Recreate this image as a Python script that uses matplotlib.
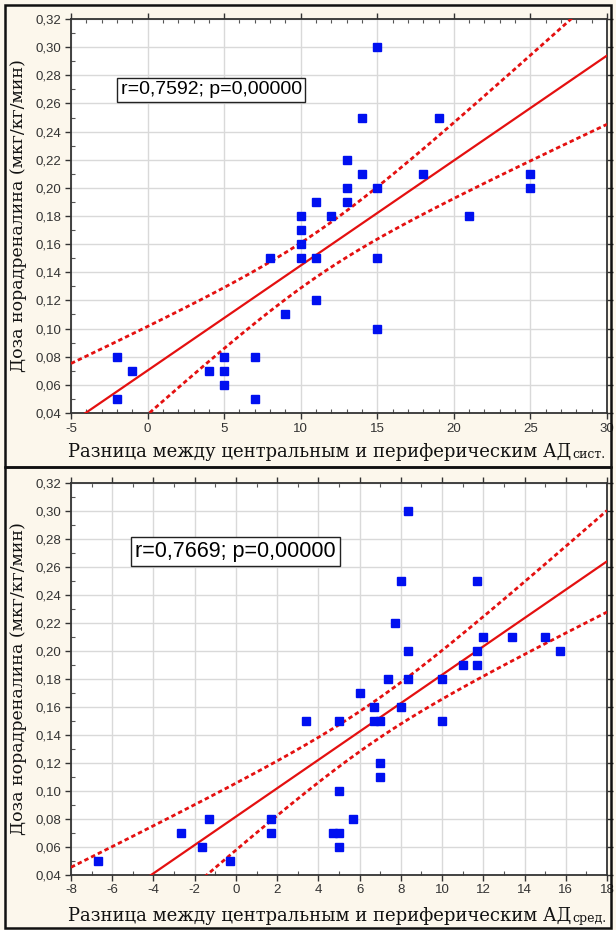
import numpy as np
import matplotlib
matplotlib.use('Agg')
import matplotlib.pyplot as plt
from matplotlib.patches import Rectangle
from matplotlib.ticker import MultipleLocator, FuncFormatter

# systolic difference vs. noradrenaline dose
sys_x = [-2, -2, -1, 4, 5, 5, 5, 7, 7, 8, 9, 10, 10, 10, 10, 11, 11, 11, 12,
         13, 13, 13, 14, 14, 15, 15, 15, 15, 18, 19, 21, 25, 25]
sys_y = [0.08, 0.05, 0.07, 0.07, 0.08, 0.07, 0.06, 0.08, 0.05, 0.15, 0.11,
         0.18, 0.17, 0.16, 0.15, 0.19, 0.15, 0.12, 0.18, 0.22, 0.20, 0.19,
         0.25, 0.21, 0.30, 0.20, 0.15, 0.10, 0.21, 0.25, 0.18, 0.21, 0.20]
sys_r = "r=0,7592; p=0,00000"

# mean pressure difference vs. noradrenaline dose
mean_x = [-6.7, -2.65, -1.65, -1.3, -0.3, 1.7, 1.7, 3.4, 4.7, 5.0, 5.0, 5.0,
          5.0, 5.7, 6.0, 6.7, 6.7, 7.0, 7.0, 7.0, 7.4, 7.7, 8.0, 8.0, 8.35,
          8.35, 8.35, 10.0, 10.0, 11.0, 11.7, 11.7, 11.7, 12.0, 13.4, 15.0, 15.7]
mean_y = [0.05, 0.07, 0.06, 0.08, 0.05, 0.08, 0.07, 0.15, 0.07, 0.07, 0.06,
          0.10, 0.15, 0.08, 0.17, 0.16, 0.15, 0.15, 0.12, 0.11, 0.18, 0.22,
          0.25, 0.16, 0.30, 0.20, 0.18, 0.18, 0.15, 0.19, 0.25, 0.20, 0.19,
          0.21, 0.21, 0.21, 0.20]
mean_r = "r=0,7669; p=0,00000"

ylabel = "Доза норадреналина (мкг/кг/мин)"
xlabel = "Разница между центральным и периферическим АД"

BG = '#fcf7ec'
RED = '#e41010'
BLUE = '#0010f0'
SERIF = ['DejaVu Serif']
SANS = ['Liberation Sans', 'DejaVu Sans']


def fit_band(x, y, xs):
    # least squares line with 95% confidence band for the mean
    x = np.asarray(x, float)
    y = np.asarray(y, float)
    n = len(x)
    b, a = np.polyfit(x, y, 1)
    resid = y - (a + b * x)
    s = np.sqrt(np.sum(resid ** 2) / (n - 2))
    sxx = np.sum((x - x.mean()) ** 2)
    t = 2.04
    yhat = a + b * xs
    half = t * s * np.sqrt(1.0 / n + (xs - x.mean()) ** 2 / sxx)
    return yhat, yhat - half, yhat + half


def draw_panel(ax, x, y, xlim, xmajor, rtext, rpos, rsize, suffix, label_y):
    ax.set_facecolor('white')
    xs = np.linspace(xlim[0], xlim[1], 200)
    yhat, lo, hi = fit_band(x, y, xs)
    ax.plot(xs, yhat, color=RED, lw=1.6, zorder=3)
    ax.plot(xs, lo, color=RED, lw=2.0, ls=(0, (1.6, 1.1)), zorder=3)
    ax.plot(xs, hi, color=RED, lw=2.0, ls=(0, (1.6, 1.1)), zorder=3)
    ax.plot(x, y, ls='none', marker='s', ms=5.2, color=BLUE, mec=BLUE, zorder=4)

    ax.set_xlim(*xlim)
    ax.set_ylim(0.04, 0.32)
    ax.xaxis.set_major_locator(MultipleLocator(xmajor))
    ax.xaxis.set_minor_locator(MultipleLocator(1))
    ax.yaxis.set_major_locator(MultipleLocator(0.02))
    ax.yaxis.set_minor_locator(MultipleLocator(0.01))
    ax.yaxis.set_major_formatter(FuncFormatter(lambda v, p: f"{v:.2f}".replace('.', ',')))
    ax.xaxis.set_major_formatter(FuncFormatter(lambda v, p: f"{v:g}"))
    ax.grid(True, which='major', color='#d9d9d9', lw=1.0, zorder=0)
    ax.set_axisbelow(True)
    ax.tick_params(which='major', direction='out', length=4, width=1,
                   color='#333333', labelsize=9.5, labelcolor='#333333', pad=3)
    ax.tick_params(which='major', top=True, right=True)
    ax.tick_params(which='minor', direction='in', length=3, width=0.8,
                   color='#555555', top=True, bottom=True, left=True, right=False)
    for t in ax.get_xticklabels() + ax.get_yticklabels():
        t.set_family(SANS)
    for sp in ax.spines.values():
        sp.set_color('#333333')
        sp.set_linewidth(1.3)

    ax.text(rpos[0], rpos[1], rtext, transform=ax.transAxes, fontsize=rsize,
            family=SANS, va='center', ha='left', zorder=5,
            bbox=dict(boxstyle='square,pad=0.18', fc='white', ec='#222222', lw=1))

    ax.set_ylabel(ylabel, family=SERIF, fontsize=12.5, color='#111111', labelpad=6)
    main = ax.text(-0.005, label_y, xlabel, transform=ax.transAxes, family=SERIF,
                   fontsize=13, color='#111111', ha='left', va='baseline')
    ax.annotate(suffix, xy=(1, 0), xycoords=main, xytext=(0.3, 0),
                textcoords='offset points', family=SERIF, fontsize=9,
                color='#111111', ha='left', va='bottom')


fig = plt.figure(figsize=(6.16, 9.30), dpi=100)
fig.patch.set_facecolor(BG)

W, H = 616.0, 930.0
# panel frames
for top, bot in [(5, 467), (467, 928)]:
    fig.patches.append(Rectangle((5 / W, 1 - bot / H), 606 / W, (bot - top) / H,
                                 transform=fig.transFigure, fill=False,
                                 ec='#111111', lw=1.8))

ax1 = fig.add_axes([71 / W, 1 - 413 / H, 536 / W, 394 / H])
draw_panel(ax1, sys_x, sys_y, (-5, 30), 5, sys_r, (0.093, 0.82), 14,
           "сист.", -0.112)

ax2 = fig.add_axes([71 / W, 1 - 874.5 / H, 536 / W, 391.5 / H])
draw_panel(ax2, mean_x, mean_y, (-8, 18), 2, mean_r, (0.12, 0.825), 15.5,
           "сред.", -0.119)

fig.savefig('out.png', dpi=100, facecolor=BG)
